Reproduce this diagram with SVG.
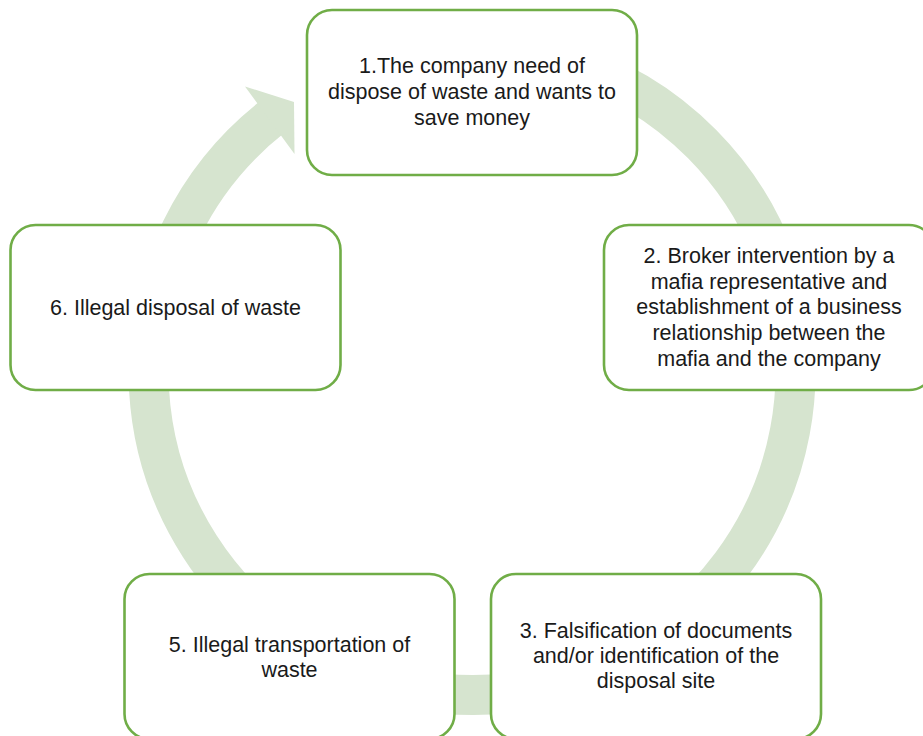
<svg xmlns="http://www.w3.org/2000/svg" width="923" height="736" viewBox="0 0 923 736">
<style>
.box{fill:#ffffff;stroke:#70ad47;stroke-width:2.6}
.t{font-family:"Liberation Sans",Arial,sans-serif;font-size:21.5px;fill:#1a1a1a;text-anchor:middle}
.ring{fill:none;stroke:#d6e4cf;stroke-width:40}
</style>
<rect width="923" height="736" fill="#ffffff"/>
<g id="connectors">
<path class="ring" d="M415.8,52.9 A323.5,323.5 0 1 1 272.8,116.6"/>
<polygon points="245,86.5 294,102 294.5,154" fill="#d6e4cf"/>
</g>
<g id="node1">
<rect class="box" x="307" y="10" width="330" height="165" rx="25"/>
<text class="t" x="472" y="73">1.The company need of</text>
<text class="t" x="472" y="99">dispose of waste and wants to</text>
<text class="t" x="472" y="125">save money</text>
</g>
<g id="node2">
<rect class="box" x="604" y="225" width="330" height="165" rx="25"/>
<text class="t" x="769" y="263">2. Broker intervention by a</text>
<text class="t" x="769" y="288.5">mafia representative and</text>
<text class="t" x="769" y="314">establishment of a business</text>
<text class="t" x="769" y="340">relationship between the</text>
<text class="t" x="769" y="366">mafia and the company</text>
</g>
<g id="node3">
<rect class="box" x="491" y="574" width="330" height="165" rx="25"/>
<text class="t" x="656" y="638">3. Falsification of documents</text>
<text class="t" x="656" y="663">and/or identification of the</text>
<text class="t" x="656" y="688">disposal site</text>
</g>
<g id="node5">
<rect class="box" x="124.5" y="574" width="330" height="165" rx="25"/>
<text class="t" x="289.5" y="652">5. Illegal transportation of</text>
<text class="t" x="289.5" y="677">waste</text>
</g>
<g id="node6">
<rect class="box" x="10.5" y="225" width="330" height="165" rx="25"/>
<text class="t" x="175.5" y="315">6. Illegal disposal of waste</text>
</g>
</svg>
